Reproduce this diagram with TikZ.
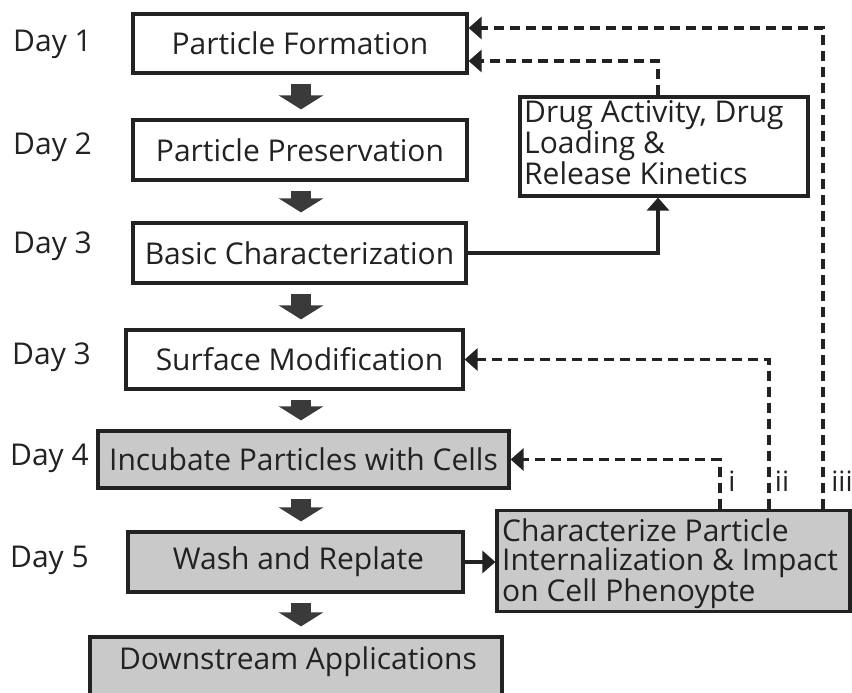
\documentclass[tikz,border=0pt]{standalone}
\usepackage{fontspec}
\setmainfont{Open Sans}
\usetikzlibrary{arrows.meta,calc}
\definecolor{ink}{HTML}{222222}
\definecolor{boxgrey}{HTML}{C9C9C9}
\definecolor{arrowgrey}{HTML}{3A3A3A}
\tikzset{
  stagebox/.style={draw=ink, line width=3.2pt, anchor=center, inner sep=0pt,
    font=\fontsize{30}{30}\selectfont, text=ink},
  greybox/.style={stagebox, fill=boxgrey},
  daylabel/.style={anchor=west, inner sep=0pt, font=\fontsize{30}{30}\selectfont, text=ink},
  romanlabel/.style={anchor=center, inner sep=0pt, font=\fontsize{28}{28}\selectfont, text=ink},
  blockarrow/.style={draw=arrowgrey, line width=20pt, shorten <=9pt, shorten >=9pt,
    -{Triangle[length=14pt,width=44pt]}},
  dashconn/.style={draw=ink, line width=3.2pt, dash pattern=on 10pt off 6pt,
    -{Triangle[length=13pt,width=22pt]}},
  solidconn/.style={draw=ink, line width=3.2pt, -{Triangle[length=13pt,width=22pt]}}
}
\begin{document}
\begin{tikzpicture}[x=1pt,y=-1pt]
\useasboundingbox (0,0) rectangle (852,693);
\begin{scope}
\clip (0,0) rectangle (852,693);
% main column
\node[stagebox, minimum width=334pt, minimum height=59pt] (f1) at (300,43.5) {Particle Formation};
\node[stagebox, minimum width=334pt, minimum height=60pt] (f2) at (300,150) {Particle Preservation};
\node[stagebox, minimum width=333pt, minimum height=60pt] (f3) at (299.5,253) {Basic Characterization};
\node[stagebox, minimum width=337pt, minimum height=59pt] (f4) at (294.5,359.5) {\hspace*{10pt}Surface Modification};
\node[greybox, minimum width=411pt, minimum height=57pt] (f5) at (303.5,459.5) {Incubate Particles with Cells};
\node[greybox, minimum width=335pt, minimum height=60pt] (f6) at (295.5,562) {\hspace*{6pt}Wash and Replate};
\node[greybox, minimum width=412pt, minimum height=66pt] (f7) at (296,670) {};
\node[anchor=center, inner sep=0pt, font=\fontsize{30}{30}\selectfont, text=ink] (f7t) at (298,662) {Downstream Applications};
% side boxes
\node[stagebox, minimum width=288pt, minimum height=99pt] (drug) at (664,146.5) {};
\node[anchor=north west, inner sep=0pt, align=left, font=\fontsize{30}{29.5}\selectfont, text=ink] (drugt) at (524,100)
  {Drug Activity, Drug\\Loading \&\\Release Kinetics};
\node[greybox, minimum width=353pt, minimum height=101pt] (char) at (673.5,561) {};
\node[anchor=north west, inner sep=0pt, align=left, font=\fontsize{30}{29}\selectfont, text=ink] (chart) at (502,519)
  {Characterize Particle\\Internalization \& Impact\\on Cell Phenoypte};
% day labels
\node[daylabel] (d1) at (13,44) {Day 1};
\node[daylabel] (d2) at (13,147) {Day 2};
\node[daylabel] (d3) at (13,246) {Day 3};
\node[daylabel] (d3b) at (12,357) {Day 3};
\node[daylabel] (d4) at (10,458) {Day 4};
\node[daylabel] (d5) at (10,560) {Day 5};
% block arrows
\coordinate (ax) at (301,0);
\draw[blockarrow] (f1.south -| ax) -- (f2.north -| ax);
\draw[blockarrow] (f2.south -| ax) -- (f3.north -| ax);
\draw[blockarrow] (f3.south -| ax) -- (f4.north -| ax);
\draw[blockarrow] (f4.south -| ax) -- (f5.north -| ax);
\draw[blockarrow] (f5.south -| ax) -- (f6.north -| ax);
\draw[blockarrow] (f6.south -| ax) -- (f7.north -| ax);
% solid connectors
\coordinate (cx1) at (658,0);
\draw[solidconn] (f3.east) -- (f3.east -| cx1) -- (drug.south -| cx1);
\draw[solidconn] (f6.east) -- (char.west |- f6.east);
% dashed feedback
\coordinate (k1) at (720,0);
\coordinate (k2) at (769,0);
\coordinate (k3) at (823,0);
\coordinate (y1) at (0,28);
\coordinate (y2) at (0,61);
\draw[dashconn] (char.north -| k1) -- (k1 |- f5.east) -- (f5.east);
\draw[dashconn] (char.north -| k2) -- (k2 |- f4.east) -- (f4.east);
\draw[dashconn] (char.north -| k3) -- (k3 |- y1) -- (f1.east |- y1);
\draw[dashconn] (drug.north -| cx1) -- (cx1 |- y2) -- (f1.east |- y2);
\node[romanlabel] (ri) at (732,481) {i};
\node[romanlabel] (rii) at (782,481) {ii};
\node[romanlabel] (riii) at (842,481) {iii};
\end{scope}
\end{tikzpicture}
\end{document}
